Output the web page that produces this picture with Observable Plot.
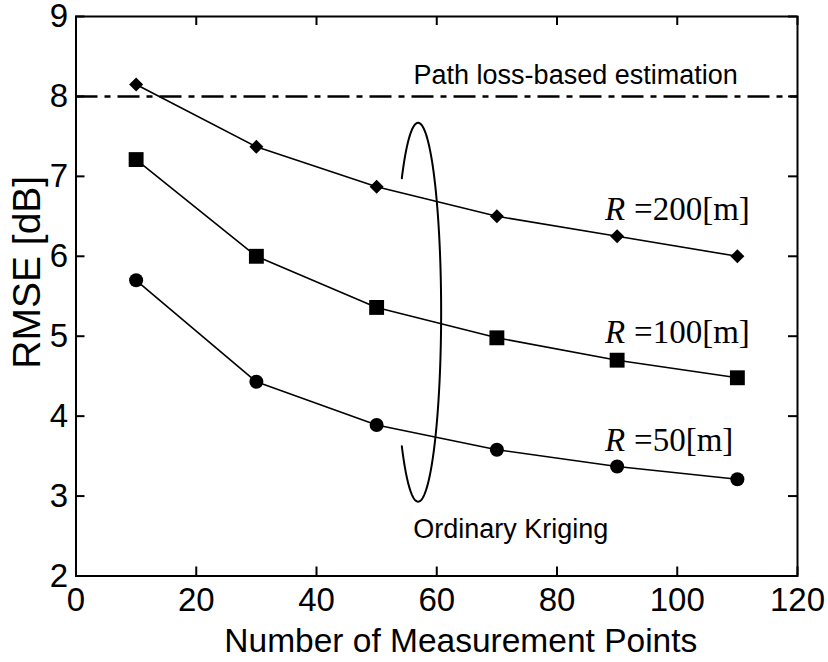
<!DOCTYPE html>
<html>
<head>
<meta charset="utf-8">
<script src="https://cdn.jsdelivr.net/npm/d3@7"></script>
<script src="https://cdn.jsdelivr.net/npm/@observablehq/plot@0.6"></script>
<style>
  body { margin: 0; background: #fff; }
</style>
</head>
<body>
<div id="chart"></div>
<script>
// Number of measurement points used by ordinary kriging
const measurementPoints = [10, 30, 50, 70, 90, 110];

// RMSE [dB] for each correlation radius R
const rmseR200 = [8.15, 7.37, 6.87, 6.50, 6.25, 6.00];
const rmseR100 = [7.21, 6.00, 5.36, 4.98, 4.70, 4.48];
const rmseR50  = [5.70, 4.43, 3.89, 3.58, 3.37, 3.21];

// Path loss-based estimation baseline
const pathLossRmse = 8;

// Axis ticks
const xTicks = [0, 20, 40, 60, 80, 100, 120];
const yTicks = [2, 3, 4, 5, 6, 7, 8, 9];

// Series labels
const seriesLabels = ["=200[m]", "=100[m]", "=50[m]"];

const toRows = (name, values) => measurementPoints.map((x, i) => ({series: name, x, y: values[i]}));
const rows200 = toRows("R200", rmseR200);
const rows100 = toRows("R100", rmseR100);
const rows50 = toRows("R50", rmseR50);

// Label anchors (left edge, baseline) for each radius
const labelRows = [
  {x: 88.0, y: 6.45, text: seriesLabels[0]},
  {x: 88.0, y: 4.91, text: seriesLabels[1]},
  {x: 88.0, y: 3.57, text: seriesLabels[2]}
];

// Outline of the "Ordinary Kriging" grouping ellipse, open on its left side
const ellipse = {cx: 56.9, cy: 5.30, rx: 3.83, ry: 2.37};
const ellipseOutline = d3.range(-135, 135.5, 1).map(deg => {
  const t = deg * Math.PI / 180;
  return {x: ellipse.cx + ellipse.rx * Math.cos(t), y: ellipse.cy + ellipse.ry * Math.sin(t)};
});

const sans = "'Liberation Sans', Arial, Helvetica, sans-serif";
const serif = "'Liberation Serif', 'Times New Roman', serif";

const width = 828, height = 662;
const margin = {left: 75.5, right: 31, top: 16, bottom: 86.5};
const innerW = width - margin.left - margin.right;
const innerH = height - margin.top - margin.bottom;
const tickLen = 9;

const chart = Plot.plot({
  width,
  height,
  marginLeft: margin.left,
  marginRight: margin.right,
  marginTop: margin.top,
  marginBottom: margin.bottom,
  x: {domain: [0, 120]},
  y: {domain: [2, 9]},
  style: {fontFamily: sans, background: "#fff", color: "#000", overflow: "visible"},
  marks: [
    // inward ticks on all four sides
    Plot.tickX(xTicks, {x: d => d, insetTop: innerH - tickLen, stroke: "#000", strokeWidth: 2}),
    Plot.tickX(xTicks, {x: d => d, insetBottom: innerH - tickLen, stroke: "#000", strokeWidth: 2}),
    Plot.tickY(yTicks, {y: d => d, insetRight: innerW - tickLen, stroke: "#000", strokeWidth: 2}),
    Plot.tickY(yTicks, {y: d => d, insetLeft: innerW - tickLen, stroke: "#000", strokeWidth: 2}),
    // tick labels
    Plot.axisX(xTicks, {anchor: "bottom", tickSize: 0, tickPadding: 12, fontSize: 33, tickFormat: d3.format("d"), label: null}),
    Plot.axisY(yTicks, {anchor: "left", tickSize: 0, tickPadding: 8, fontSize: 33, tickFormat: d3.format("d"), label: null}),
    Plot.frame({stroke: "#000", strokeWidth: 2}),

    // path loss-based estimation
    Plot.ruleY([pathLossRmse], {stroke: "#000", strokeWidth: 2.5, strokeDasharray: "22,7,6,7"}),
    Plot.text(["Path loss-based estimation"], {x: 83.1, y: 8.16, textAnchor: "middle", lineAnchor: "bottom", fontSize: 27, fontFamily: sans}),

    // kriging curves
    Plot.line(rows200, {x: "x", y: "y", stroke: "#000", strokeWidth: 1.6}),
    Plot.line(rows100, {x: "x", y: "y", stroke: "#000", strokeWidth: 1.6}),
    Plot.line(rows50, {x: "x", y: "y", stroke: "#000", strokeWidth: 1.6}),
    Plot.dot(rows200, {x: "x", y: "y", symbol: "diamond2", r: 6.3, fill: "#000", stroke: "none"}),
    Plot.dot(rows100, {x: "x", y: "y", symbol: "square", r: 8.4, fill: "#000", stroke: "none"}),
    Plot.dot(rows50, {x: "x", y: "y", symbol: "circle", r: 7, fill: "#000", stroke: "none"}),

    // radius labels: italic R followed by the value
    Plot.text(labelRows, {x: "x", y: "y", text: () => "R", textAnchor: "start", lineAnchor: "bottom", fontSize: 33, fontFamily: serif, fontStyle: "italic"}),
    Plot.text(labelRows, {x: "x", y: "y", text: "text", dx: 29, textAnchor: "start", lineAnchor: "bottom", fontSize: 33, fontFamily: serif}),

    // ordinary kriging grouping
    Plot.line(ellipseOutline, {x: "x", y: "y", stroke: "#000", strokeWidth: 2, curve: "linear"}),
    Plot.text(["Ordinary Kriging"], {x: 56.1, y: 2.47, textAnchor: "start", lineAnchor: "bottom", fontSize: 27, fontFamily: sans}),

    // axis titles
    Plot.text(["RMSE [dB]"], {x: -8.0, y: 5.8, rotate: -90, textAnchor: "middle", lineAnchor: "middle", fontSize: 39, fontFamily: sans}),
    Plot.text(["Number of Measurement Points"], {x: 64, y: 2, dy: 76, textAnchor: "middle", lineAnchor: "bottom", fontSize: 33.5, fontFamily: sans})
  ]
});

document.getElementById("chart").appendChild(chart);
</script>
</body>
</html>
